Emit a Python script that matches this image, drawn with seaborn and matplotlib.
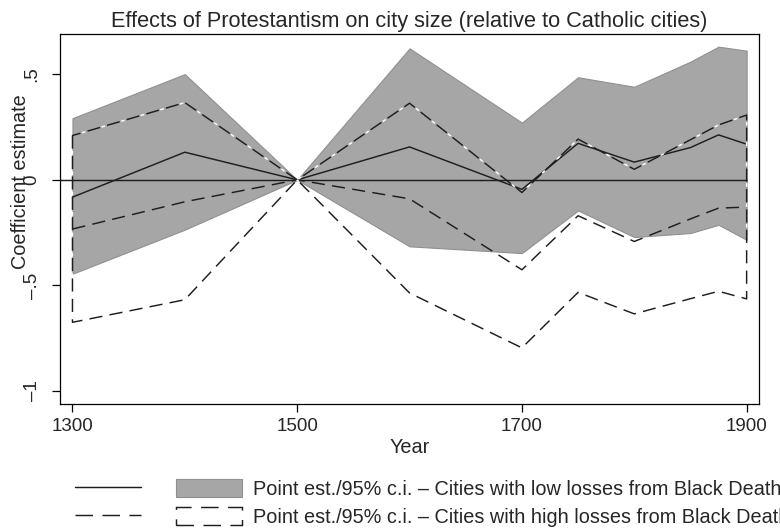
import numpy as np
import pandas as pd
import matplotlib
matplotlib.use("Agg")
import matplotlib.pyplot as plt
import seaborn as sns
from matplotlib.lines import Line2D
from matplotlib.patches import Patch

# ---- data ----
years = [1300, 1400, 1500, 1600, 1700, 1750, 1800, 1850, 1875, 1900]
low_est = [-0.082, 0.131, 0.0, 0.156, -0.045, 0.173, 0.084, 0.153, 0.213, 0.169]
low_lo = [-0.445, -0.236, 0.0, -0.315, -0.347, -0.145, -0.271, -0.252, -0.213, -0.284]
low_hi = [0.292, 0.501, 0.0, 0.623, 0.271, 0.486, 0.441, 0.560, 0.631, 0.612]
high_est = [-0.233, -0.104, 0.0, -0.090, -0.426, -0.170, -0.292, -0.185, -0.134, -0.129]
high_lo = [-0.675, -0.568, 0.0, -0.536, -0.796, -0.533, -0.635, -0.563, -0.528, -0.564]
high_hi = [0.210, 0.366, 0.0, 0.363, -0.060, 0.193, 0.050, 0.190, 0.260, 0.307]

xticks = [1300, 1500, 1700, 1900]
yticks = [-1, -0.5, 0, 0.5]
yticklabels = ["\u20131", "\u2013.5", "0", ".5"]

title = "Effects of Protestantism on city size (relative to Catholic cities)"
lab_low = "Point est./95% c.i. \u2013 Cities with low losses from Black Death"
lab_high = "Point est./95% c.i. \u2013 Cities with high losses from Black Death"

df = pd.DataFrame({"year": years, "low_est": low_est, "high_est": high_est})

sns.set_theme(style="white")
plt.rcParams["font.family"] = ["Liberation Sans", "DejaVu Sans"]
FS_TICK = 13.5
FS_TITLE = 15.7
FS_LEG = 14.3
FS_LAB = 14.3

fig = plt.figure(figsize=(7.8, 5.29), dpi=100)
ax = fig.add_axes([60 / 780, 1 - 404 / 529, (759 - 60) / 780, (404 - 34) / 529])

LC = "#1e1e1e"
GRAY = "#a6a6a6"
LW = 1.05
DASH = (0, (9, 5))

xmin, xmax = 1288.9, 1911.0
ax.set_xlim(xmin, xmax)
ax.set_ylim(-1.062, 0.691)

# gray CI band (low losses)
ax.fill_between(years, low_lo, low_hi, facecolor=GRAY, edgecolor="#909090", linewidth=0.8, zorder=1)

# zero reference line
ax.hlines(0, xmin, years[-1], color=LC, linewidth=LW, zorder=2)

# point estimates
sns.lineplot(data=df, x="year", y="low_est", ax=ax, color=LC, linewidth=LW, zorder=3)
sns.lineplot(data=df, x="year", y="high_est", ax=ax, color=LC, linewidth=LW, zorder=3)
ax.lines[-1].set_linestyle(DASH)

# dashed CI outline (high losses): white bits under dashes, then dark dashes
ax.fill_between(years, high_lo, high_hi, facecolor="none", edgecolor="white",
                linewidth=LW, linestyle=(3.5, (2.5, 11.5)), zorder=3.5)
ax.fill_between(years, high_lo, high_hi, facecolor="none", edgecolor=LC,
                linewidth=LW, linestyle=DASH, zorder=4)

# axes styling
for s in ax.spines.values():
    s.set_color("black")
    s.set_linewidth(0.9)
ax.set_xticks(xticks)
ax.set_xticklabels([str(x) for x in xticks], fontsize=FS_TICK)
ax.set_yticks(yticks)
ax.set_yticklabels(yticklabels, fontsize=FS_TICK, rotation=90, va="center")
ax.tick_params(axis="both", which="major", direction="out", length=6, width=0.9,
               color="black", bottom=True, left=True)
ax.tick_params(axis="x", pad=4)
ax.tick_params(axis="y", pad=8)
ax.set_xlabel("Year", fontsize=FS_LAB, labelpad=2)
ax.set_ylabel("Coefficient estimate", fontsize=FS_LAB)
ax.yaxis.set_label_coords(-0.043, 0.6)
ax.set_title(title, fontsize=FS_TITLE, pad=5)

# legend
LDASH = (0, (12, 6.5))
handles = [
    Line2D([], [], color=LC, linewidth=LW),
    Line2D([], [], color=LC, linewidth=LW, linestyle=LDASH),
    Patch(facecolor=GRAY, edgecolor="#909090", linewidth=0.8),
    Patch(facecolor="none", edgecolor=LC, linewidth=LW, linestyle=LDASH),
]
labels = ["", "", lab_low, lab_high]
fig.legend(handles, labels, ncol=2, loc="upper left",
           bbox_to_anchor=(75 / 780, 1 - 479 / 529), frameon=False,
           fontsize=FS_LEG, handlelength=3.32, handleheight=1.0,
           handletextpad=0.55, columnspacing=1.2, labelspacing=0.42,
           borderpad=0, borderaxespad=0)

fig.savefig("out.png", dpi=100)
